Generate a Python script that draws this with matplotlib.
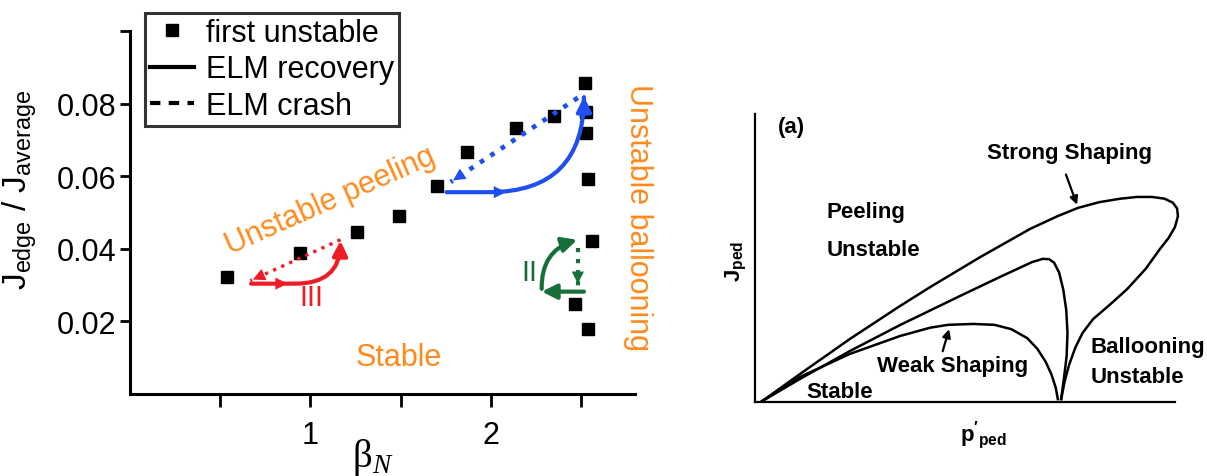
import matplotlib
matplotlib.use('Agg')
import matplotlib.pyplot as plt
from matplotlib.lines import Line2D
from matplotlib.patches import FancyArrowPatch

plt.rcParams['font.family'] = ['Liberation Sans', 'DejaVu Sans']
plt.rcParams['mathtext.fontset'] = 'custom'
plt.rcParams['mathtext.rm'] = 'Liberation Sans'
plt.rcParams['mathtext.bf'] = 'Liberation Sans:bold'
plt.rcParams['mathtext.it'] = 'Liberation Serif:italic'
plt.rcParams['mathtext.default'] = 'rm'

# left panel: first unstable points
beta_n = [0.54, 0.94, 1.26, 1.49, 1.70, 1.87, 2.14, 2.35, 2.52, 2.53, 2.53, 2.54, 2.56, 2.47, 2.54]
j_ratio = [0.0323, 0.0389, 0.0447, 0.0490, 0.0573, 0.0666, 0.0732, 0.0765, 0.0858,
           0.0778, 0.0718, 0.0592, 0.0422, 0.0247, 0.0178]

# ELM cycles: recovery start, recovery end, crash start, crash end
cyc_III = [(0.656, 0.0304), (1.167, 0.0430), (1.167, 0.0425), (0.667, 0.0312)]
cyc_I = [(1.739, 0.0556), (2.517, 0.0827), (2.483, 0.0816), (1.778, 0.0584)]
cyc_II = [(2.517, 0.0282), (2.494, 0.0427), (2.483, 0.0403), (2.483, 0.0296)]
cyc_II_corner = (2.283, 0.0282)

# right panel: stability boundaries (p'_ped, J_ped), normalised
strong_p = [0.017, 0.107, 0.226, 0.345, 0.417, 0.536, 0.655, 0.720, 0.769, 0.820, 0.870, 0.910,
            0.945, 0.975, 0.995, 1.005, 1.007, 1.000, 0.985, 0.964, 0.930, 0.886, 0.845, 0.805,
            0.780, 0.763, 0.748, 0.737, 0.729]
strong_j = [0.003, 0.097, 0.219, 0.333, 0.399, 0.503, 0.601, 0.645, 0.674, 0.694, 0.706, 0.712,
            0.712, 0.706, 0.692, 0.672, 0.645, 0.608, 0.570, 0.531, 0.462, 0.392, 0.338, 0.288,
            0.240, 0.190, 0.130, 0.070, 0.010]
mid_p = [0.017, 0.107, 0.226, 0.345, 0.488, 0.583, 0.660, 0.685, 0.700, 0.712, 0.724, 0.734,
         0.741, 0.744, 0.742, 0.736, 0.729]
mid_j = [0.003, 0.080, 0.177, 0.267, 0.368, 0.434, 0.486, 0.497, 0.496, 0.484, 0.450, 0.390,
         0.320, 0.240, 0.160, 0.087, 0.010]
weak_p = [0.017, 0.107, 0.226, 0.345, 0.417, 0.460, 0.520, 0.570, 0.610, 0.648, 0.672, 0.692,
          0.706, 0.716, 0.721]
weak_j = [0.003, 0.087, 0.167, 0.229, 0.258, 0.268, 0.271, 0.268, 0.253, 0.222, 0.185, 0.140,
          0.095, 0.050, 0.010]

ORANGE = '#ff8a1c'
RED = '#ee1c25'
BLUE = '#1f4ff0'
GREEN = '#17703a'

fig = plt.figure(figsize=(12.07, 4.77), dpi=100)
ax = fig.add_axes([130 / 1207, 82 / 477, 505 / 1207, 363 / 477])

ax.plot(beta_n, j_ratio, 's', color='black', markersize=8.5, zorder=3)


def draw_cycle(ax, cyc, color, rad, mid_x=None, dot_lw=3):
    # recovery: solid, straight then bending up
    a = FancyArrowPatch(cyc[0], cyc[1], connectionstyle=f'angle,angleA=0,angleB=90,rad={rad}',
                        arrowstyle='-|>', mutation_scale=22, lw=3, color=color, zorder=4)
    ax.add_patch(a)
    if mid_x is not None:
        ax.annotate('', xy=(mid_x, cyc[0][1]), xytext=(mid_x - 0.05, cyc[0][1]),
                    arrowprops=dict(arrowstyle='-|>', mutation_scale=22, lw=0, color=color), zorder=4)
    # crash: dotted
    ax.plot([cyc[2][0], cyc[3][0]], [cyc[2][1], cyc[3][1]], ':', color=color, lw=dot_lw, zorder=4)
    dx = (cyc[3][0] - cyc[2][0]) * 0.08
    dy = (cyc[3][1] - cyc[2][1]) * 0.08
    ax.annotate('', xy=cyc[3], xytext=(cyc[3][0] - dx, cyc[3][1] - dy),
                arrowprops=dict(arrowstyle='-|>', mutation_scale=22, lw=0, color=color), zorder=4)


draw_cycle(ax, cyc_III, RED, 45, mid_x=0.889, dot_lw=2.4)
draw_cycle(ax, cyc_I, BLUE, 95, mid_x=2.10, dot_lw=3.4)

# cycle II
ax.annotate('', xy=cyc_II_corner, xytext=cyc_II[0],
            arrowprops=dict(arrowstyle='-|>', mutation_scale=22, lw=3, color=GREEN,
                            shrinkA=0, shrinkB=0), zorder=4)
ax.add_patch(FancyArrowPatch(cyc_II_corner, cyc_II[1], connectionstyle='arc3,rad=-0.4',
                             arrowstyle='-|>', mutation_scale=22, lw=3, color=GREEN, zorder=4))
ax.plot([cyc_II[2][0], cyc_II[3][0]], [cyc_II[2][1], cyc_II[3][1]], ':', color=GREEN, lw=3, zorder=4)
ax.annotate('', xy=cyc_II[3], xytext=(cyc_II[3][0], cyc_II[3][1] + 0.002),
            arrowprops=dict(arrowstyle='-|>', mutation_scale=22, lw=0, color=GREEN), zorder=4)

ax.text(1.006, 0.0266, 'III', color=RED, fontsize=21, ha='center', va='center')
ax.text(2.217, 0.0337, 'II', color=GREEN, fontsize=21, ha='center', va='center')
ax.text(1.111, 0.0534, 'Unstable peeling', color=ORANGE, fontsize=22, rotation=24,
        ha='center', va='center', rotation_mode='anchor')
ax.text(1.489, 0.0101, 'Stable', color=ORANGE, fontsize=22, ha='center', va='center')
ax.text(2.817, 0.0488, 'Unstable ballooning', color=ORANGE, fontsize=22, rotation=-90,
        ha='center', va='center', clip_on=False)

ax.set_xlim(0, 2.8)
ax.set_ylim(0, 0.1)
ax.set_xticks([0.5, 1, 1.5, 2, 2.5], labels=['', '1', '', '2', ''])
ax.set_yticks([0.02, 0.04, 0.06, 0.08, 0.1], labels=['0.02', '0.04', '0.06', '0.08', ''])
ax.tick_params(axis='x', length=9, width=2, pad=10, labelsize=22)
ax.tick_params(axis='y', length=7, width=2, pad=3, labelsize=22)
for s in ['top', 'right']:
    ax.spines[s].set_visible(False)
for s in ['left', 'bottom']:
    ax.spines[s].set_linewidth(2.2)

ax.set_ylabel(r'$J_{edge}$ / $J_{average}$', fontsize=24)
ax.yaxis.set_label_coords(-0.18, 0.565)
ax.text(0.48, -0.115, r'β$_{\mathit{N}}$', transform=ax.transAxes, fontsize=28,
        family='Liberation Serif', ha='center', va='top')

handles = [Line2D([], [], marker='s', ls='none', color='black', markersize=8.5),
           Line2D([], [], ls='-', color='black', lw=3),
           Line2D([], [], ls='--', color='black', lw=3, dashes=(2.5, 2))]
leg = fig.legend(handles, ['first unstable', 'ELM recovery', 'ELM crash'],
                 loc='upper left', bbox_to_anchor=(145 / 1207, 1 - 14 / 477), fontsize=22,
                 frameon=True, fancybox=False, edgecolor='black', borderpad=0.15,
                 handlelength=1.45, handletextpad=0.4, labelspacing=0.22, borderaxespad=0)
leg.get_frame().set_linewidth(2.2)

# right panel
ax2 = fig.add_axes([755 / 1207, 74 / 477, 420 / 1207, 288 / 477])
for px, jy in [(strong_p, strong_j), (mid_p, mid_j), (weak_p, weak_j)]:
    ax2.plot(px, jy, color='black', lw=1.8, clip_on=False, solid_joinstyle='round')
ax2.set_xlim(0, 1)
ax2.set_ylim(0, 1)
ax2.set_xticks([])
ax2.set_yticks([])
for s in ['top', 'right']:
    ax2.spines[s].set_visible(False)
for s in ['left', 'bottom']:
    ax2.spines[s].set_linewidth(1.6)

bold = dict(fontsize=16, fontweight='bold', color='black')
ax2.text(0.055, 0.955, '(a)', ha='left', va='center', **bold)
ax2.text(0.748, 0.865, 'Strong Shaping', ha='center', va='center', **bold)
ax2.text(0.171, 0.663, 'Peeling', ha='left', va='center', **bold)
ax2.text(0.171, 0.531, 'Unstable', ha='left', va='center', **bold)
ax2.text(0.471, 0.125, 'Weak Shaping', ha='center', va='center', **bold)
ax2.text(0.202, 0.038, 'Stable', ha='center', va='center', **bold)
ax2.text(0.798, 0.191, 'Ballooning', ha='left', va='center', **bold)
ax2.text(0.798, 0.087, 'Unstable', ha='left', va='center', **bold)
ax2.annotate('', xy=(0.769, 0.676), xytext=(0.738, 0.799),
             arrowprops=dict(arrowstyle='-|>', mutation_scale=12, lw=1.6, color='black'))
ax2.annotate('', xy=(0.464, 0.262), xytext=(0.445, 0.167),
             arrowprops=dict(arrowstyle='-|>', mutation_scale=12, lw=1.6, color='black'))
ax2.text(-0.043, 0.49, r'$\mathbf{J_{ped}}$', rotation=90, ha='center', va='center', fontsize=16)
ax2.text(0.543, -0.111, r"$\mathbf{p'_{ped}}$", ha='center', va='center', fontsize=16)

fig.savefig('out.png', dpi=100)
